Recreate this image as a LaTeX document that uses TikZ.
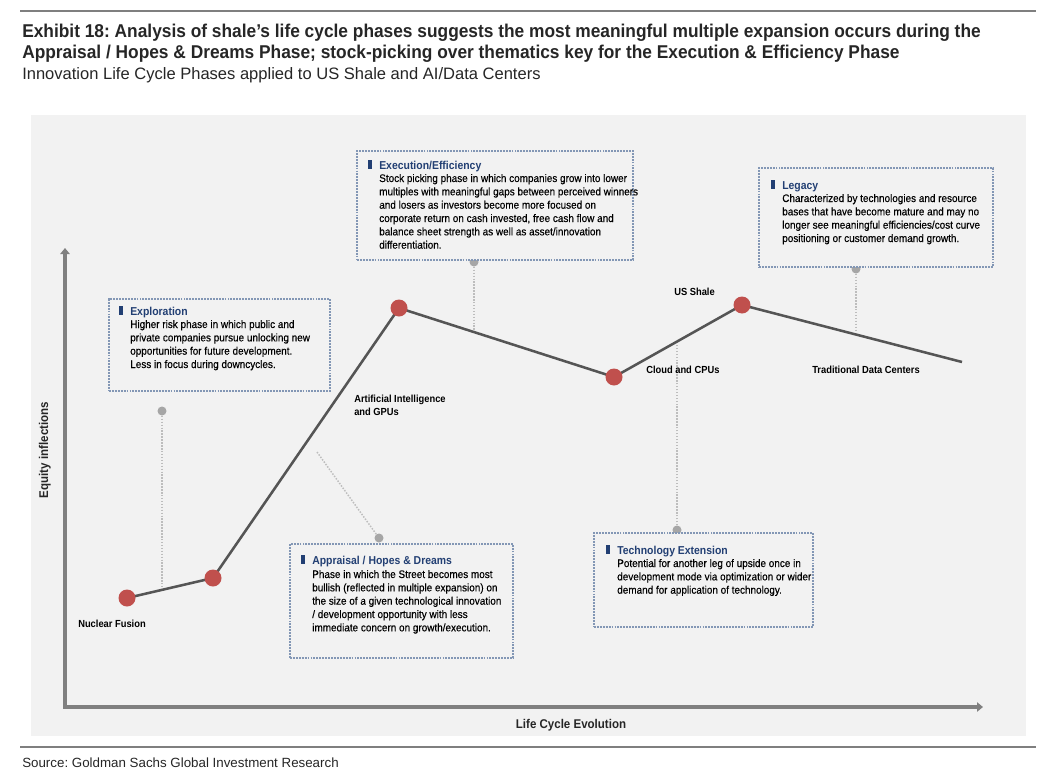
\documentclass[tikz,border=0pt]{standalone}
\usepackage{fontspec}
\setmainfont{Liberation Sans}
\newfontfamily\nar{Liberation Sans}[FakeStretch=0.91]
\newfontfamily\narm{Liberation Sans}[FakeStretch=0.91, FakeBold=0.3]
\newfontfamily\ttl{Liberation Sans}[FakeStretch=0.935]
\usetikzlibrary{fit,arrows.meta}
\definecolor{panel}{HTML}{F2F2F2}
\definecolor{boxc}{HTML}{8397B5}
\definecolor{titc}{HTML}{223F73}
\definecolor{ptc}{HTML}{C0504D}
\definecolor{dotc}{HTML}{A6A6A6}
\definecolor{connc}{HTML}{BDBDBD}
\definecolor{linec}{HTML}{555555}
\definecolor{axc}{HTML}{808080}
\definecolor{rulec}{HTML}{7F7F7F}
\definecolor{headc}{HTML}{262626}
\newcommand\tlines[2][10pt]{\vtop{\baselineskip=#1\relax\halign{##\hfil\cr#2\crcr}}}
\frenchspacing
\begin{document}
\begin{tikzpicture}[x=0.75pt,y=-0.75pt,
  box/.style={draw=boxc, line width=0.9pt, dash pattern=on 1.4pt off 0.8pt, fill=panel, inner sep=0pt},
  btitle/.style={font=\nar\bfseries\fontsize{8.6}{10}\selectfont, text=titc, inner sep=0pt, anchor=base west},
  body/.style={font=\narm\fontsize{8.2}{10}\selectfont, text=black, inner sep=0pt, anchor=base west},
  clab/.style={font=\nar\bfseries\fontsize{7.7}{9.75}\selectfont, text=black, inner sep=0pt, anchor=base west},
  axlab/.style={font=\nar\bfseries\fontsize{9.5}{11}\selectfont, text=black!85, inner sep=0pt, anchor=base},
  ptn/.style={circle, fill=ptc, minimum size=12.75pt, inner sep=0pt},
  dotn/.style={circle, fill=dotc, minimum size=6.75pt, inner sep=0pt},
  conn/.style={draw=connc, line width=1.1pt, dash pattern=on 1.1pt off 1.1pt},
  curve/.style={draw=linec, line width=1.9pt, line join=round},
  axis/.style={draw=axc, line width=3.4pt, line join=miter},
  rule/.style={draw=rulec, line width=1.2pt},
  bar/.style={fill=titc},
  head/.style={font=\ttl\bfseries\fontsize{13.9}{16}\selectfont, text=headc, inner sep=0pt, anchor=base west},
  sub/.style={font=\fontsize{12.4}{15}\selectfont, text=headc, inner sep=0pt, anchor=base west},
  src/.style={font=\fontsize{10}{12}\selectfont, text=headc, inner sep=0pt, anchor=base west}
]
\useasboundingbox[fill=white] (0,0) rectangle (1056,778);
% header
\draw[rule] (20,11) -- (1036,11);
\node[head] (h1) at (22,37) {Exhibit 18: Analysis of shale’s life cycle phases suggests the most meaningful multiple expansion occurs during the};
\node[head] (h2) at (22,58) {Appraisal / Hopes \& Dreams Phase; stock-picking over thematics key for the Execution \& Efficiency Phase};
\node[sub] (h3) at (22,79) {Innovation Life Cycle Phases applied to US Shale and AI/Data Centers};
% panel
\fill[panel] (31,115) rectangle (1026,736);
\draw[rule] (20,747) -- (1036,747);
\node[src] (source) at (22,767) {Source: Goldman Sachs Global Investment Research};
% axes
\coordinate (O) at (65,707);
\coordinate (ytop) at (65,248);
\coordinate (xend) at (983,707);
\draw[axis, {Triangle[width=7pt,length=4.5pt]}-{Triangle[width=7pt,length=4.5pt]}] (ytop) -- (O) -- (xend);
\node[axlab] (xl) at (571,728) {Life Cycle Evolution};
\node[axlab, rotate=90] (yl) at (48,450) {Equity inflections};
% curve points
\coordinate (c1) at (127,598);
\coordinate (c2) at (213,578);
\coordinate (c3) at (399,308);
\coordinate (c4) at (614,377);
\coordinate (c5) at (742,305);
\coordinate (cend) at (962,362);
% connectors
\node[dotn] (d1) at (162,411) {};
\coordinate (e1) at (162,588);
\draw[conn] (d1) -- (e1);
\node[dotn] (d2) at (474,262) {};
\coordinate (e2) at (474,330);
\draw[conn] (d2) -- (e2);
\node[dotn] (d3) at (856,269) {};
\coordinate (e3) at (856,332);
\draw[conn] (d3) -- (e3);
\node[dotn] (d4) at (379,538) {};
\coordinate (e4) at (317,452);
\draw[conn] (d4) -- (e4);
\node[dotn] (d5) at (677,530) {};
\coordinate (e5) at (677,342);
\draw[conn] (d5) -- (e5);
% curve
\draw[curve] (c1) -- (c2) -- (c3) -- (c4) -- (c5) -- (cend);
\node[ptn] (p1) at (c1) {};
\node[ptn] (p2) at (c2) {};
\node[ptn] (p3) at (c3) {};
\node[ptn] (p4) at (c4) {};
\node[ptn] (p5) at (c5) {};
% point labels
\node[clab] (l1) at (78,627) {Nuclear Fusion};
\node[clab] (l3) at (354,402) {\tlines[9.75pt]{Artificial Intelligence\cr and GPUs}};
\node[clab] (l4) at (646,373) {Cloud and CPUs};
\node[clab] (l5) at (674,295) {US Shale};
\node[clab] (l6) at (812,373) {Traditional Data Centers};
% boxes
\node[box, fit={(109,299) (330,391)}] (bexp) {};
\fill[bar] (118.5,306) rectangle (123,315);
\node[btitle] (texp) at (130,315) {Exploration};
\node[body] (xexp) at (130,328) {\tlines{Higher risk phase in which public and\cr private companies pursue unlocking new\cr opportunities for future development.\cr Less in focus during downcycles.}};

\node[box, fit={(357,151) (633,260)}] (bexe) {};
\fill[bar] (367.5,160) rectangle (372,169);
\node[btitle] (texe) at (379,169) {Execution/Efficiency};
\node[body] (xexe) at (379,182) {\tlines{Stock picking phase in which companies grow into lower\cr multiples with meaningful gaps between perceived winners\cr and losers as investors become more focused on\cr corporate return on cash invested, free cash flow and\cr balance sheet strength as well as asset/innovation\cr differentiation.}};

\node[box, fit={(759,168) (993,267)}] (bleg) {};
\fill[bar] (770.5,180) rectangle (775,189);
\node[btitle] (tleg) at (782,189) {Legacy};
\node[body] (xleg) at (782,202) {\tlines{Characterized by technologies and resource\cr bases that have become mature and may no\cr longer see meaningful efficiencies/cost curve\cr positioning or customer demand growth.}};

\node[box, fit={(290,544) (513,658)}] (bapp) {};
\fill[bar] (300.5,555) rectangle (305,564);
\node[btitle] (tapp) at (312,564) {Appraisal / Hopes \& Dreams};
\node[body] (xapp) at (312,578) {\tlines{Phase in which the Street becomes most\cr bullish (reflected in multiple expansion) on\cr the size of a given technological innovation\cr / development opportunity with less\cr immediate concern on growth/execution.}};

\node[box, fit={(594,533) (813,627)}] (btec) {};
\fill[bar] (605.5,545) rectangle (610,554);
\node[btitle] (ttec) at (617,554) {Technology Extension};
\node[body] (xtec) at (617,567) {\tlines{Potential for another leg of upside once in\cr development mode via optimization or wider\cr demand for application of technology.}};
\end{tikzpicture}
\end{document}
